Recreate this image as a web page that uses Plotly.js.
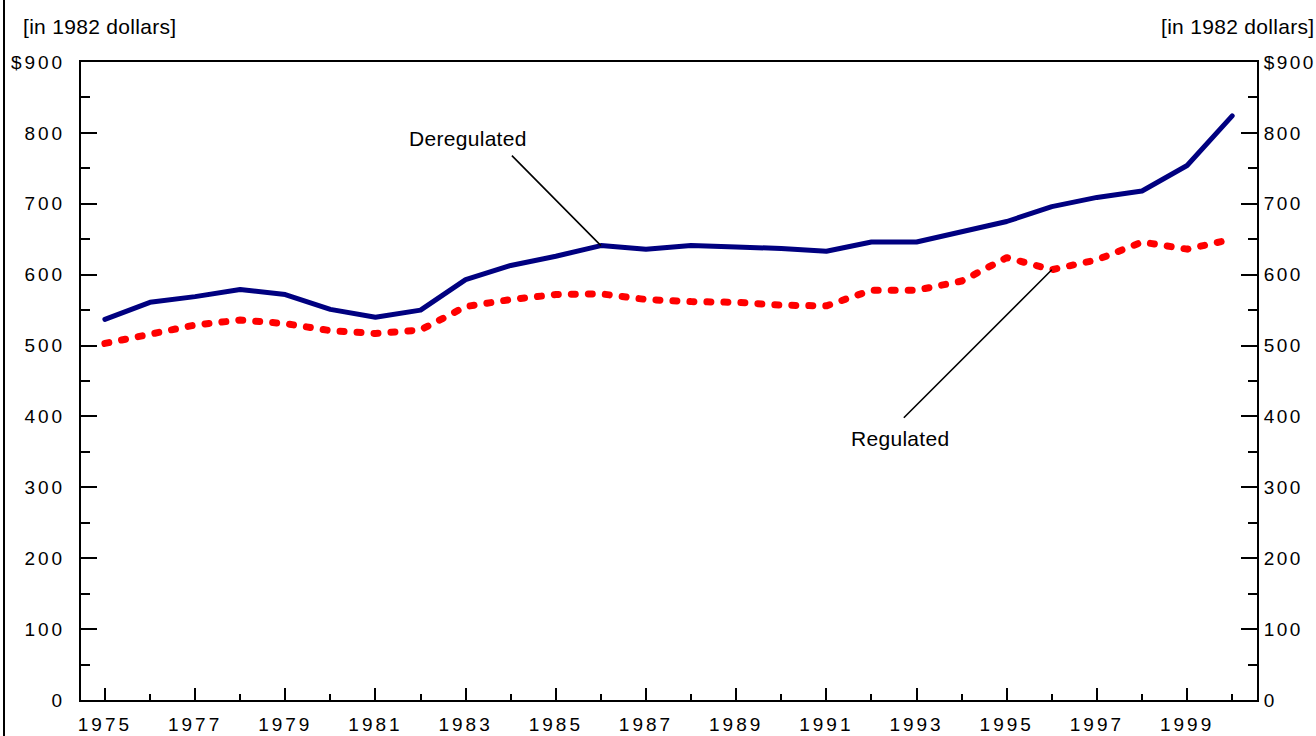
<!DOCTYPE html>
<html>
<head>
<meta charset="utf-8">
<script src="https://cdn.plot.ly/plotly-3.0.1.min.js"></script>
<style>
  html, body { margin: 0; padding: 0; background: #fff; }
  #frame { position: absolute; left: 3px; top: 0; width: 2px; height: 736px; background: #000; }
  #chart { position: absolute; left: 0; top: 0; width: 1316px; height: 736px; }
  .xtick text, .ytick text { letter-spacing: 3px; }
  .y2tick text { letter-spacing: 2.4px; }
  .annotation-text { letter-spacing: 0.3px; }
  path.js-line { stroke-linecap: round; stroke-linejoin: round; }
</style>
</head>
<body>
<div id="chart"></div>
<div id="frame"></div>
<script>
const years = [1975, 1976, 1977, 1978, 1979, 1980, 1981, 1982, 1983, 1984, 1985, 1986, 1987,
               1988, 1989, 1990, 1991, 1992, 1993, 1994, 1995, 1996, 1997, 1998, 1999, 2000];
const deregulated = [537, 561, 569, 579, 572, 551, 540, 550, 593, 613, 626, 641, 636,
                     641, 639, 637, 633, 646, 646, 661, 675, 696, 709, 718, 754, 824];
const regulated = [503, 517, 529, 536, 531, 521, 517, 522, 555, 565, 572, 573, 565,
                   562, 561, 557, 556, 578, 578, 591, 624, 607, 621, 646, 636, 650];
const xTickVals = [1975, 1977, 1979, 1981, 1983, 1985, 1987, 1989, 1991, 1993, 1995, 1997, 1999];
const xTickText = ['1975', '1977', '1979', '1981', '1983', '1985', '1987', '1989', '1991', '1993', '1995', '1997', '1999'];
const yTickVals = [0, 100, 200, 300, 400, 500, 600, 700, 800, 900];
const yTickText = ['0', '100', '200', '300', '400', '500', '600', '700', '800', '$900'];
const unitLabel = '[in 1982 dollars]';
const seriesNames = ['Deregulated', 'Regulated'];

const FONT = 'Liberation Sans, Arial, Helvetica, sans-serif';

const traces = [
  {
    x: years, y: regulated, name: seriesNames[1], type: 'scatter', mode: 'lines',
    xaxis: 'x', yaxis: 'y2',
    line: { color: '#ff0000', width: 7, dash: '4px,13px' }, hoverinfo: 'skip'
  },
  {
    x: years, y: deregulated, name: seriesNames[0], type: 'scatter', mode: 'lines',
    line: { color: '#000080', width: 5 }, hoverinfo: 'skip'
  }
];

const yCommon = {
  range: [0, 900], tickmode: 'array', tickvals: yTickVals, ticktext: yTickText,
  ticks: 'inside', ticklen: 16, tickwidth: 2, tickcolor: '#000',
  showline: true, linewidth: 2, linecolor: '#000',
  showgrid: false, zeroline: false,
  tickfont: { family: FONT, size: 19, color: '#000' },
  minor: { dtick: 50, tick0: 0, ticks: 'inside', ticklen: 9, tickwidth: 2, tickcolor: '#000', showgrid: false },
  fixedrange: true
};

const annFont = { family: FONT, size: 21, color: '#000' };

const layout = {
  width: 1316, height: 736,
  margin: { l: 81, r: 59, t: 62, b: 36, pad: 0 },
  paper_bgcolor: '#fff', plot_bgcolor: '#fff',
  showlegend: false,
  font: { family: FONT, color: '#000' },
  xaxis: {
    range: [1974.47, 2000.55], tickmode: 'array', tickvals: xTickVals, ticktext: xTickText,
    ticks: 'inside', ticklen: 12, tickwidth: 2, tickcolor: '#000',
    showline: true, linewidth: 2, linecolor: '#000', mirror: true,
    showgrid: false, zeroline: false,
    tickfont: { family: FONT, size: 19, color: '#000' },
    ticklabelstandoff: 6,
    minor: { dtick: 1, tick0: 1975, ticks: 'inside', ticklen: 6, tickwidth: 2, tickcolor: '#000', showgrid: false },
    fixedrange: true
  },
  yaxis: Object.assign({}, yCommon, { side: 'left', ticklabelstandoff: 10 }),
  yaxis2: Object.assign({}, yCommon, { side: 'right', overlaying: 'y', anchor: 'x', ticklabelstandoff: 1 }),
  annotations: [
    { xref: 'paper', yref: 'paper', x: -0.051, y: 1.0564, xanchor: 'left', yanchor: 'middle',
      text: unitLabel, showarrow: false, font: annFont },
    { xref: 'paper', yref: 'paper', x: 1.0505, y: 1.0564, xanchor: 'right', yanchor: 'middle',
      text: unitLabel, showarrow: false, font: annFont },
    // Deregulated label and leader line
    { xref: 'x', yref: 'y', x: years[11], y: deregulated[11], text: seriesNames[0],
      showarrow: true, arrowcolor: 'rgba(0,0,0,0)', ax: -133, ay: -107, font: annFont },
    { xref: 'x', yref: 'y', x: years[11], y: deregulated[11], text: ' ',
      showarrow: true, arrowhead: 0, arrowwidth: 1.6, arrowcolor: '#000', standoff: 0,
      ax: -91, ay: -92, font: { size: 1 } },
    // Regulated label and leader line
    { xref: 'x', yref: 'y', x: years[21], y: regulated[21], text: seriesNames[1],
      showarrow: true, arrowcolor: 'rgba(0,0,0,0)', ax: -152, ay: 169, font: annFont },
    { xref: 'x', yref: 'y', x: years[21], y: regulated[21], text: ' ',
      showarrow: true, arrowhead: 0, arrowwidth: 1.6, arrowcolor: '#000', standoff: 0,
      ax: -150, ay: 150, font: { size: 1 } }
  ]
};

Plotly.newPlot('chart', traces, layout, { staticPlot: true, displayModeBar: false });
</script>
</body>
</html>
